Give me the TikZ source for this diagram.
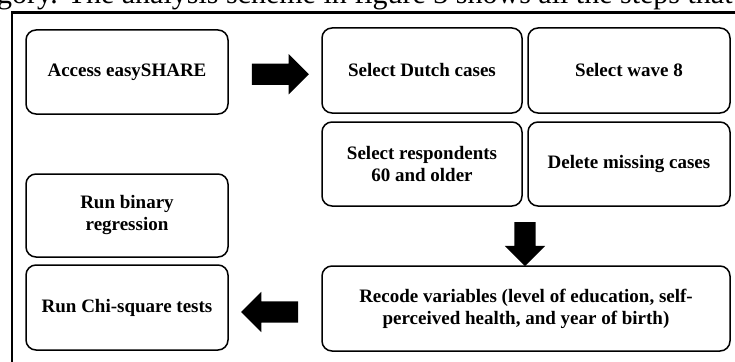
\documentclass[tikz,border=0pt]{standalone}
\usepackage{fontspec}
\setmainfont{Liberation Serif}
\usetikzlibrary{shapes.arrows,calc}

\tikzset{
  stepbox/.style={draw, line width=1.5pt, rounded corners=10pt, align=center,
    font=\bfseries\fontsize{19}{22}\selectfont, inner sep=2pt},
  blockarrow/.style={single arrow, fill=black, inner xsep=0pt, inner ysep=10.5pt,
    single arrow head extend=9.5pt, single arrow tip angle=90, minimum height=57pt}
}

\begin{document}
\begin{tikzpicture}[x=1pt,y=-1pt]
    \useasboundingbox (0,0) rectangle (735,361);
    \clip (0,0) rectangle (735,361);

    % Running text above the figure
    \node[anchor=base west, inner sep=0pt, font=\fontsize{30}{34}\selectfont] (caption) at (-3,4)
        {gory. The analysis scheme in figure 3 shows all the steps that};

    % Frame
    \draw[line width=2.2pt] (12,370) -- (12,12.5) -- (745,12.5);

    % Steps
    \node[stepbox, minimum width=202pt, minimum height=84pt] (access) at (127,72) {Access easySHARE};
    \node[stepbox, minimum width=200pt, minimum height=85pt] (dutch) at (422,70.5) {Select Dutch cases};
    \node[stepbox, minimum width=202pt, minimum height=85pt] (wave) at (629,70.5) {Select wave 8};
    \node[stepbox, minimum width=200pt, minimum height=84pt] (resp) at (422,164) {Select respondents\\60 and older};
    \node[stepbox, minimum width=202pt, minimum height=84pt] (missing) at (629,164) {Delete missing cases};
    \node[stepbox, minimum width=202pt, minimum height=83pt] (binary) at (127,215.5) {Run binary\\regression};
    \node[stepbox, minimum width=202pt, minimum height=85pt] (chi) at (127,307.5) {Run Chi-square tests};
    \node[stepbox, minimum width=408pt, minimum height=85pt] (recode) at (526,308.5)
        {Recode variables (level of education, self-\\perceived health, and year of birth)};

    % Block arrows
    \node[blockarrow] (toselect) at ($(access.east)!0.5!(dutch.west)+(0,3)$) {};
    \node[blockarrow, inner xsep=10.5pt, inner ysep=0pt, minimum height=44pt, shape border rotate=270]
        (torecode) at ($(resp.south east)!0.5!(missing.south west)+(0,32)$) {};
    \node[blockarrow, shape border rotate=180] (totests) at ($(chi.east)!0.5!(recode.west)+(0,4)$) {};
\end{tikzpicture}
\end{document}
